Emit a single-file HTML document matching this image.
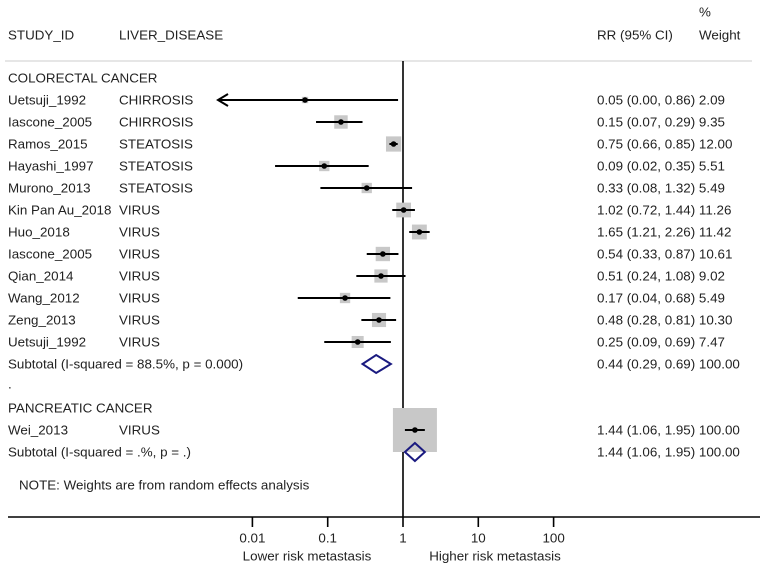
<!DOCTYPE html>
<html><head><meta charset="utf-8"><style>
html,body{margin:0;padding:0;background:#fff}
svg{display:block;font-family:"Liberation Sans",Arial,sans-serif}
</style></head><body>
<svg id="chart" width="760" height="568" viewBox="0 0 760 568">
<g id="texts" font-size="13" fill="#222"></g>
<g id="marks"></g>
</svg>
<script>
const studies=["Uetsuji_1992","Iascone_2005","Ramos_2015","Hayashi_1997","Murono_2013","Kin Pan Au_2018","Huo_2018","Iascone_2005","Qian_2014","Wang_2012","Zeng_2013","Uetsuji_1992"];
const diseases=["CHIRROSIS","CHIRROSIS","STEATOSIS","STEATOSIS","STEATOSIS","VIRUS","VIRUS","VIRUS","VIRUS","VIRUS","VIRUS","VIRUS"];
const rr=[0.05,0.15,0.75,0.09,0.33,1.02,1.65,0.54,0.51,0.17,0.48,0.25];
const lo=[0.00,0.07,0.66,0.02,0.08,0.72,1.21,0.33,0.24,0.04,0.28,0.09];
const hi=[0.86,0.29,0.85,0.35,1.32,1.44,2.26,0.87,1.08,0.68,0.81,0.69];
const weights=[2.09,9.35,12.00,5.51,5.49,11.26,11.42,10.61,9.02,5.49,10.30,7.47];
const sub1=[0.44,0.29,0.69];
const pStudy=["Wei_2013"],pDisease=["VIRUS"],pRR=[1.44],pLo=[1.06],pHi=[1.95],pW=[100.00];
const sub2=[1.44,1.06,1.95];
const ticks=[0.01,0.1,1,10,100];
const tickLabels=["0.01","0.1","1","10","100"];

const NS="http://www.w3.org/2000/svg";
const T=document.getElementById('texts'),M=document.getElementById('marks');
const X0=403,DEC=75.3,minX=218;
const xs=v=>X0+DEC*Math.log10(v);
const rowY=i=>100+22*i;
const f2=v=>v.toFixed(2);
function el(tag,attrs,parent){const e=document.createElementNS(NS,tag);for(const k in attrs)e.setAttribute(k,attrs[k]);parent.appendChild(e);return e;}
function txt(x,y,s,name,anchor){const t=el('text',{transform:`translate(${x},${y+4.5}) scale(1.03,1)`,'text-anchor':anchor||'start'},T);t.textContent=s;


return t;}

txt(699,12,"%","weight-header-pct");
txt(8,35,"STUDY_ID","study-id-header");
txt(119,35,"LIVER_DISEASE","liver-disease-header");
txt(597,35,"RR (95% CI)","rr-header");
txt(699,35,"Weight","weight-header");
let hr=el('line',{x1:5,x2:752,y1:61,y2:61,stroke:'#ccc','stroke-width':1},M);


let vl=el('line',{x1:X0,x2:X0,y1:61,y2:517,stroke:'#000','stroke-width':1.6},M);



txt(8,78,"COLORECTAL CANCER","colorectal-group-label");
function studyRow(y,name,dis,r,l,h,w,i){
  txt(8,y,name,'study-name');
  txt(119,y,dis,'disease-label');
  txt(597,y,`${f2(r)} (${f2(l)}, ${f2(h)}) ${f2(w)}`,'rr-ci-text');
  const side=44*Math.sqrt(w/100);
  const b=el('rect',{x:xs(r)-side/2,y:y-side/2,width:side,height:side,fill:'#c8c8c8'},M);
  
  
  let x1=l>0?xs(l):minX;
  if(l>0&&x1<minX)x1=minX;
  const ln=el('line',{x1:x1,x2:xs(h),y1:y,y2:y,stroke:'#000','stroke-width':2},M);
  
  
  if(l<=0||xs(l)<minX){
    const a=el('path',{d:`M${minX+10},${y-6} L${minX},${y} L${minX+10},${y+6}`,fill:'none',stroke:'#000','stroke-width':2},M);
    
    
  }
  const p=el('circle',{cx:xs(r),cy:y,r:2.8,fill:'#000'},M);
  
  
}
for(let i=0;i<studies.length;i++)studyRow(rowY(i),studies[i],diseases[i],rr[i],lo[i],hi[i],weights[i],i);
function diamond(y,s,name){
  const d=el('polygon',{points:`${xs(s[1])},${y} ${xs(s[0])},${y-9} ${xs(s[2])},${y} ${xs(s[0])},${y+9}`,fill:'none',stroke:'#1a1a80','stroke-width':2},M);
  
  
}
let ys=rowY(12);
txt(8,ys,"Subtotal  (I-squared = 88.5%, p = 0.000)","colorectal-subtotal-label");
txt(597,ys,`${f2(sub1[0])} (${f2(sub1[1])}, ${f2(sub1[2])}) 100.00`,'colorectal-subtotal-ci');
diamond(ys,sub1,'colorectal-diamond');
txt(8,384,".","separator-dot");
txt(8,408,"PANCREATIC CANCER","pancreatic-group-label");
studyRow(430,pStudy[0],pDisease[0],pRR[0],pLo[0],pHi[0],pW[0],0);
txt(8,452,"Subtotal  (I-squared = .%, p = .)","pancreatic-subtotal-label");
txt(597,452,`${f2(sub2[0])} (${f2(sub2[1])}, ${f2(sub2[2])}) 100.00`,'pancreatic-subtotal-ci');
diamond(452,sub2,'pancreatic-diamond');
txt(19,485,"NOTE: Weights are from random effects analysis","note-text");

let ax=el('line',{x1:8,x2:760,y1:517,y2:517,stroke:'#000','stroke-width':1.6},M);


ticks.forEach((t,i)=>{
  const tk=el('line',{x1:xs(t),x2:xs(t),y1:517,y2:527,stroke:'#000','stroke-width':1.6},M);
  
  
  txt(xs(t),538,tickLabels[i],'x-tick-label','middle');
});
txt(307,556,"Lower risk metastasis","lower-risk-label","middle");
txt(495,556,"Higher risk metastasis","higher-risk-label","middle");
</script>
</body></html>
